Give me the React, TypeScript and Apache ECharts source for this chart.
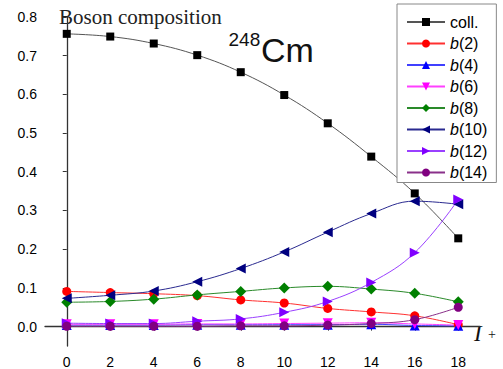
import React, { useEffect, useRef } from "react";
import * as echarts from "echarts";

const spins = [0, 2, 4, 6, 8, 10, 12, 14, 16, 18];
const xTicks = [0, 2, 4, 6, 8, 10, 12, 14, 16, 18];
const yTicks = [0, 0.1, 0.2, 0.3, 0.4, 0.5, 0.6, 0.7, 0.8];

const coll = [0.756, 0.749, 0.731, 0.701, 0.657, 0.598, 0.525, 0.439, 0.344, 0.228];
const b2 = [0.091, 0.088, 0.085, 0.080, 0.069, 0.061, 0.047, 0.038, 0.028, 0.005];
const b4 = [0.004, 0.004, 0.004, 0.005, 0.005, 0.005, 0.005, 0.006, 0.003, 0.002];
const b6 = [0.006, 0.006, 0.006, 0.007, 0.007, 0.008, 0.009, 0.010, 0.007, 0.004];
const b8 = [0.063, 0.065, 0.071, 0.082, 0.091, 0.100, 0.104, 0.097, 0.086, 0.064];
const b10 = [0.073, 0.081, 0.092, 0.116, 0.150, 0.193, 0.244, 0.292, 0.324, 0.316];
const b12 = [0.009, 0.008, 0.008, 0.014, 0.020, 0.037, 0.065, 0.114, 0.191, 0.328];
const b14 = [0.001, 0.001, 0.001, 0.001, 0.002, 0.002, 0.004, 0.008, 0.018, 0.050];

const seriesDefs = [
  { name: "coll.", data: coll, color: "#000000", line: "#555555", symbol: "rect", size: 8, rotate: 0 },
  { name: "b(2)", data: b2, color: "#ff0000", line: "#ff3030", symbol: "circle", size: 9, rotate: 0 },
  { name: "b(4)", data: b4, color: "#0000ff", line: "#4040ff", symbol: "triangle", size: 10, rotate: 0 },
  { name: "b(6)", data: b6, color: "#ff00ff", line: "#ff40ff", symbol: "triangle", size: 10, rotate: 180 },
  { name: "b(8)", data: b8, color: "#008000", line: "#2a8a2a", symbol: "diamond", size: 11, rotate: 0 },
  { name: "b(10)", data: b10, color: "#000080", line: "#2a2a90", symbol: "triangle", size: 10, rotate: 90 },
  { name: "b(12)", data: b12, color: "#8000ff", line: "#9a40ff", symbol: "triangle", size: 10, rotate: -90 },
  { name: "b(14)", data: b14, color: "#800080", line: "#8a308a", symbol: "circle", size: 9, rotate: 0 },
];

const SANS = "'Liberation Sans', Arial, sans-serif";
const SERIF = "'Liberation Serif', 'Times New Roman', serif";

export default function App() {
  const ref = useRef<HTMLDivElement>(null);
  useEffect(() => {
    if (!ref.current) return;
    const chart = echarts.init(ref.current, null, { renderer: "svg" });
    chart.setOption({
      animation: false,
      backgroundColor: "#ffffff",
      grid: { left: 45, right: 23, top: 16.8, bottom: 21.3 },
      xAxis: {
        type: "value",
        min: -1,
        max: 19,
        axisLine: { show: true, lineStyle: { color: "#333", width: 1.3 } },
        axisTick: { show: true, length: 4, customValues: xTicks, lineStyle: { color: "#333" } },
        axisLabel: {
          customValues: xTicks,
          margin: 9,
          color: "#000",
          fontSize: 14,
          fontFamily: SANS,
        },
        splitLine: { show: false },
      },
      yAxis: {
        type: "value",
        min: -0.05,
        max: 0.8,
        axisLine: { show: true, lineStyle: { color: "#333", width: 1.3 } },
        axisTick: { show: true, length: 4, customValues: yTicks, lineStyle: { color: "#333" } },
        axisLabel: {
          customValues: yTicks,
          margin: 8,
          color: "#000",
          fontSize: 14,
          fontFamily: SANS,
          formatter: (v: number) => v.toFixed(1),
        },
        splitLine: { show: false },
      },
      legend: {
        orient: "vertical",
        left: 397,
        top: 4,
        padding: [10, 9, 2, 9],
        itemWidth: 38,
        itemHeight: 10,
        itemGap: 5.5,
        borderColor: "#888",
        borderWidth: 1,
        backgroundColor: "#fff",
        data: seriesDefs.map((s) => s.name),
        formatter: (name: string) =>
          name.startsWith("b(") ? "{i|b}" + name.slice(1) : name,
        textStyle: {
          fontSize: 16,
          lineHeight: 16,
          color: "#000",
          fontFamily: SANS,
          rich: {
            i: { fontStyle: "italic", fontSize: 16, lineHeight: 16, fontFamily: SANS, color: "#000" },
          },
        },
      },
      graphic: [
        {
          type: "text",
          left: 59,
          top: 6,
          style: { text: "Boson composition", fontFamily: SERIF, fontSize: 21, fill: "#222" },
        },
        {
          type: "text",
          x: 228.5,
          y: 39.4,
          style: { text: "248", fontFamily: SANS, fontSize: 19, fill: "#111", verticalAlign: "middle" },
        },
        {
          type: "text",
          x: 261,
          y: 49.6,
          style: { text: "Cm", fontFamily: SANS, fontSize: 34, fill: "#111", verticalAlign: "middle" },
        },
        {
          type: "text",
          x: 474,
          y: 333,
          style: { text: "I", fontFamily: SERIF, fontStyle: "italic", fontSize: 23, fill: "#111", verticalAlign: "middle" },
        },
        {
          type: "text",
          x: 488,
          y: 334,
          style: { text: "+", fontFamily: SERIF, fontSize: 14, fill: "#111", verticalAlign: "middle" },
        },
      ],
      series: seriesDefs.map((s) => ({
        name: s.name,
        type: "line",
        smooth: 0.4,
        data: spins.map((x, i) => [x, s.data[i]]),
        symbol: s.symbol,
        symbolSize: s.size,
        symbolRotate: s.rotate,
        showAllSymbol: true,
        clip: false,
        itemStyle: { color: s.color },
        lineStyle: { color: s.line, width: 1 },
      })),
    });
    return () => chart.dispose();
  }, []);
  return <div ref={ref} style={{ width: 503, height: 369, position: "absolute", left: 0, top: 0 }} />;
}
